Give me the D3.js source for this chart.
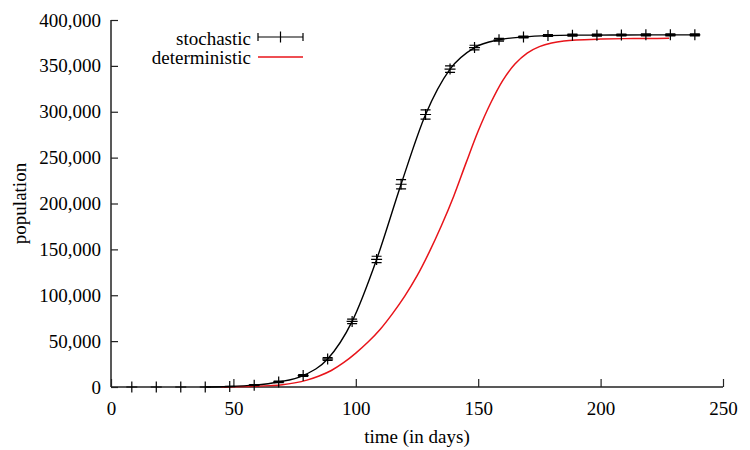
<!DOCTYPE html>
<html><head><meta charset="utf-8">
<script src="https://cdn.jsdelivr.net/npm/d3@7"></script>
<style>body{margin:0;background:#fff}svg{display:block}</style>
</head><body><svg id="c" width="750" height="450"></svg>
<script>
const stochTime = [8.5,18.5,28.5,38.5,48.5,58.5,68.5,78.5,88.5,98.5,108.5,118.5,128.5,138.5,148.5,158.5,168.5,178.5,188.5,198.5,208.5,218.5,228.5,238.5];
const stochMean = [0,0,0,0,500,2000,5500,12500,30500,71500,139000,221000,297000,346500,370000,378500,381500,383000,383500,383500,383700,383800,383800,383800];
const stochErr  = [0,0,0,0,200,500,800,1000,1500,2500,3500,5000,5000,3500,2500,1500,1000,1000,1000,1000,1000,1000,1000,1000];
const detTime  = [45,50,55,60,65,70,75,80,85,90,95,100,105,110,115,120,125,130,135,140,145,150,155,160,165,170,175,180,185,190,200,210,220,228];
const detValue = [0,200,450,800,1500,2500,4500,7500,12000,18000,26500,37000,49000,63000,80000,99000,121000,147000,176000,208000,244000,279000,309000,334000,352000,364000,371000,375000,377200,378300,379200,379700,379900,380000];
const xTicks = [0,50,100,150,200,250];
const yTicks = [0,50000,100000,150000,200000,250000,300000,350000,400000];
const seriesNames = ["stochastic","deterministic"];

const FONT = "'Liberation Serif','Times New Roman',serif";
const svg = d3.select("#c").attr("font-family",FONT);
const L=111, R=723, T=20, B=387;
const x = d3.scaleLinear().domain([0,250]).range([L,R]);
const y = d3.scaleLinear().domain([0,400000]).range([B,T]);
const axisColor = "#222";

// axes
const gx = svg.append("g").attr("transform",`translate(0,${B})`)
  .call(d3.axisBottom(x).tickValues(xTicks).tickSize(-8).tickPadding(15).tickFormat(d3.format("d")));
const gy = svg.append("g").attr("transform",`translate(${L},0)`)
  .call(d3.axisLeft(y).tickValues(yTicks).tickSize(-7).tickPadding(10).tickFormat(d3.format(",")));
[gx,gy].forEach(g=>{
  g.attr("font-family",FONT).attr("font-size",19);
  g.select(".domain").attr("stroke",axisColor).attr("stroke-width",1.5);
  g.selectAll(".tick line").attr("stroke",axisColor).attr("stroke-width",1.2);
  g.selectAll(".tick text").attr("fill","#000");
});
gx.select(".domain").attr("d",`M${L},0H${R}`);
gy.select(".domain").attr("d",`M0,${B}V${T}`);

svg.append("text").attr("x",(L+R)/2).attr("y",443).attr("text-anchor","middle")
  .attr("font-size",19).text("time (in days)");
svg.append("text").attr("transform",`translate(26,${(T+B)/2}) rotate(-90)`).attr("text-anchor","middle")
  .attr("font-size",19).text("population");

// deterministic
const detData = detTime.map((t,i)=>({t,v:detValue[i]}));
svg.append("path").datum(detData)
  .attr("fill","none").attr("stroke","#e8141a").attr("stroke-width",1.5)
  .attr("d",d3.line().x(d=>x(d.t)).y(d=>y(d.v)).curve(d3.curveCatmullRom.alpha(0.5)));

// stochastic
const stData = stochTime.map((t,i)=>({t,v:stochMean[i],e:stochErr[i]}));
svg.append("path").datum(stData.filter(d=>d.t>=38))
  .attr("fill","none").attr("stroke","#000").attr("stroke-width",1.4)
  .attr("d",d3.line().x(d=>x(d.t)).y(d=>y(d.v)).curve(d3.curveMonotoneX));
const cap=5, pm=5.5;
const mk = svg.append("g").attr("stroke","#000").attr("stroke-width",1.2).attr("fill","none");
stData.forEach(d=>{
  const cx=x(d.t), cy=y(d.v), y1=y(d.v+d.e), y0=y(d.v-d.e);
  mk.append("path").attr("d",
    `M${cx},${Math.min(y1,cy-pm)}V${Math.max(y0,cy+pm)}`+
    `M${cx-pm},${cy}H${cx+pm}`+
    (d.e>0?`M${cx-cap},${y1}H${cx+cap}M${cx-cap},${y0}H${cx+cap}`:""));
});

// legend
const lg = svg.append("g").attr("font-size",19);
lg.append("text").attr("x",251).attr("y",45).attr("text-anchor","end").text(seriesNames[0]);
lg.append("text").attr("x",251).attr("y",64).attr("text-anchor","end").text(seriesNames[1]);
lg.append("path").attr("stroke","#000").attr("stroke-width",1.2).attr("fill","none")
  .attr("d","M258,37H303M258,33V41M303,33V41M280.5,31.5V42.5");
lg.append("path").attr("stroke","#e8141a").attr("stroke-width",1.5).attr("fill","none")
  .attr("d","M258,57H303");
</script></body></html>
